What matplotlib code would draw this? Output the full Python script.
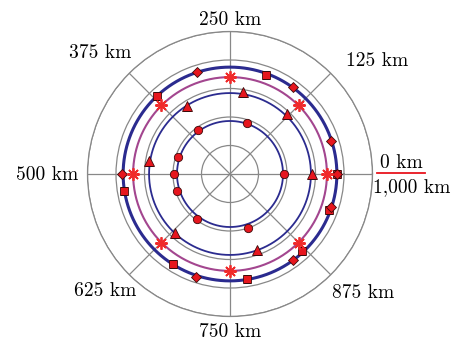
import numpy as np
import matplotlib.pyplot as plt
from matplotlib.lines import Line2D

plt.rcParams['font.family'] = ['cmr10', 'DejaVu Serif']

# ring radii of the reference circles
ring_inner = 1.86
ring_mid = 2.84
ring_star = 3.40
ring_outer = 3.75

# marker positions: distance along track (km) and radius
circle_km = [0, 200, 350, 450, 500, 550, 650, 800]
circle_r = [1.89, 1.89, 1.92, 1.93, 1.96, 1.97, 1.96, 1.99]

tri_km = [0, 130, 225, 340, 475, 630, 805]
tri_r = [2.87, 2.90, 2.92, 2.84, 2.87, 2.84, 2.84]

star_km = [0, 125, 250, 375, 500, 625, 750, 875]
star_r = [3.40, 3.40, 3.41, 3.41, 3.42, 3.41, 3.41, 3.40]

square_km = [0, 195, 370, 525, 660, 775, 870, 945]
square_r = [3.74, 3.69, 3.75, 3.77, 3.72, 3.74, 3.71, 3.71]

diamond_km = [0, 50, 150, 300, 500, 700, 850, 950]
diamond_r = [3.77, 3.72, 3.77, 3.77, 3.80, 3.81, 3.75, 3.72]

angle_labels = ['0 km', '125 km', '250 km', '375 km', '500 km',
                '625 km', '750 km', '875 km', '1,000 km']

W, H = 456, 342
cx, cy, R = 230, 174, 142.5


def km2th(km):
    return np.asarray(km) / 1000.0 * 2 * np.pi


fig = plt.figure(figsize=(W / 100, H / 100), dpi=100)
ax = fig.add_axes([(cx - R) / W, (H - cy - R) / H, 2 * R / W, 2 * R / H],
                  projection='polar')
ax.set_ylim(0, 5)
ax.set_yticks([1, 2, 3, 4, 5])
ax.set_yticklabels([])
ax.set_xticks(np.deg2rad(np.arange(0, 360, 45)))
ax.set_xticklabels([])
ax.tick_params(length=0)
ax.grid(color='#888888', lw=0.9)
ax.spines['polar'].set_color('#888888')
ax.spines['polar'].set_linewidth(0.9)

full = np.linspace(0, 2 * np.pi, 721)
navy = '#2b2b8f'
ax.plot(full, np.full_like(full, ring_inner), color=navy, lw=1.3)
ax.plot(full, np.full_like(full, ring_mid), color=navy, lw=1.3)
ax.plot(full, np.full_like(full, ring_star), color='#a3468f', lw=1.5)
ax.plot(full, np.full_like(full, ring_outer), color=navy, lw=2.2)

face = '#e6161e'
edge = '#3a0a0a'
ax.plot(km2th(circle_km), circle_r, 'o', ms=6, mfc=face, mec=edge, mew=0.6)
ax.plot(km2th(tri_km), tri_r, '^', ms=6.5, mfc=face, mec=edge, mew=0.6)
ax.plot(km2th(square_km), square_r, 's', ms=5.8, mfc=face, mec=edge, mew=0.6)
ax.plot(km2th(diamond_km), diamond_r, 'D', ms=5.2, mfc=face, mec=edge, mew=0.6)
ax.plot(km2th(star_km), star_r, ls='none', marker=(8, 2, 0), ms=9,
        mec='#f02a2a', mew=1.3)

# angle labels placed around the dial (pixel positions)
label_pos = [(401, 163), (377, 61), (230, 20), (100, 53), (47, 175),
             (105, 291), (230, 332), (363, 293), (412, 187)]
for txt, (px, py) in zip(angle_labels, label_pos):
    fig.text(px / W, 1 - py / H, txt, ha='center', va='center', fontsize=14)

fig.add_artist(Line2D([377 / W, 425 / W], [1 - 173 / H, 1 - 173 / H],
                      color='#e8141c', lw=1.3))

fig.savefig('out.png', dpi=100)
